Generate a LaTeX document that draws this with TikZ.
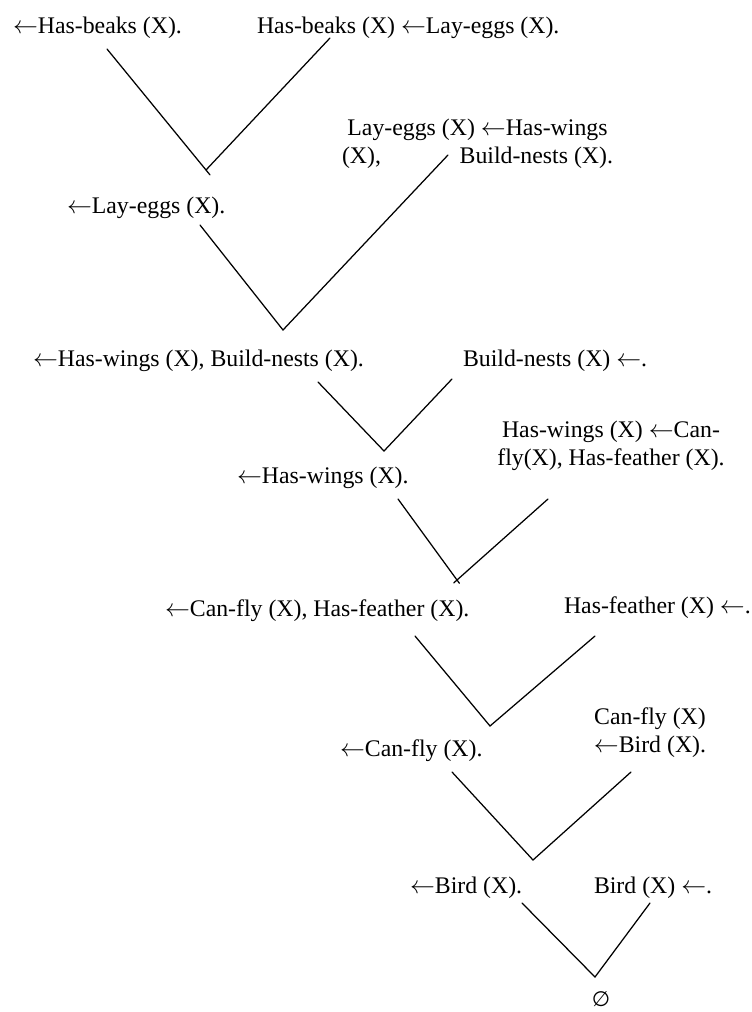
\documentclass[tikz,border=0pt]{standalone}
\usepackage{fontspec}
\setmainfont{Liberation Serif}
\newfontfamily\symfont{DejaVu Sans}
\usetikzlibrary{calc}
\newcommand{\lar}{\ensuremath{\leftarrow}}
\begin{document}
\begin{tikzpicture}[x=1pt,y=-1pt,
  clause/.style={inner sep=0pt, outer sep=0pt, anchor=base west,
    font=\fontsize{23.8}{28}\selectfont},
  stack/.style={clause, anchor=base},
  edge/.style={line width=1.25pt, line cap=round, line join=miter}]
\useasboundingbox (0,0) rectangle (752,1012);

% clauses of the resolution refutation
\node[clause] (hb)   at (13,33)   {\lar Has-beaks (X).};
\node[clause] (hbl)  at (257,33)  {Has-beaks (X) \lar Lay-eggs (X).};
\node[clause] (le)   at (67,213)  {\lar Lay-eggs (X).};
\node[stack]  (lehw) at (477.5,135) {\begin{tabular}[t]{@{}c@{}}Lay-eggs (X) \lar Has-wings\\
  \makebox[271pt]{(X),\hfill Build-nests (X).}\end{tabular}};
\node[clause] (hwbn) at (33,366)  {\lar Has-wings (X), Build-nests (X).};
\node[clause] (bn)   at (463,366) {Build-nests (X) \lar.};
\node[clause] (hw)   at (237,483) {\lar Has-wings (X).};
\node[stack]  (hwcf) at (611,437) {\begin{tabular}[t]{@{}c@{}}Has-wings (X) \lar Can-\\
  fly(X), Has-feather (X).\end{tabular}};
\node[clause] (cfhf) at (165,616) {\lar Can-fly (X), Has-feather (X).};
\node[clause] (hf)   at (564,613) {Has-feather (X) \lar.};
\node[clause] (cf)   at (340,756) {\lar Can-fly (X).};
\node[stack]  (cfb)  at (650,724) {\begin{tabular}[t]{@{}c@{}}Can-fly (X)\\
  \lar Bird (X).\end{tabular}};
\node[clause] (b)    at (410,893) {\lar Bird (X).};
\node[clause] (bf)   at (594,893) {Bird (X) \lar.};
\node[inner sep=0pt, font=\fontsize{21}{24}\symfont] (empty) at (601,999) {∅};

% end points of the resolution branches
\coordinate (hb-o)   at (107,49);
\coordinate (hbl-o)  at (330,38);
\coordinate (r1)     at (206,170);
\coordinate (le-o)   at (200,225);
\coordinate (lehw-o) at (448,155);
\coordinate (r2)     at (283,330);
\coordinate (hwbn-o) at (318,382);
\coordinate (bn-o)   at (452,379);
\coordinate (r3)     at (384,451);
\coordinate (hw-o)   at (398,499);
\coordinate (hwcf-o) at (548,499);
\coordinate (r4)     at (457,580);
\coordinate (cfhf-o) at (415,636);
\coordinate (hf-o)   at (595,636);
\coordinate (r5)     at (490,726);
\coordinate (cf-o)   at (452,772);
\coordinate (cfb-o)  at (631,772);
\coordinate (r6)     at (533,860);
\coordinate (b-o)    at (522,903);
\coordinate (bf-o)   at (650,903);
\coordinate (r7)     at (595,977);

% resolution steps
\draw[edge] (hb-o) -- ($(hb-o)!1.04!(r1)$);
\draw[edge] (hbl-o) -- (r1);
\draw[edge] (le-o) -- (r2) -- (lehw-o);
\draw[edge] (hwbn-o) -- (r3) -- (bn-o);
\draw[edge] (hw-o) -- ($(hw-o)!1.04!(r4)$);
\draw[edge] (hwcf-o) -- ($(hwcf-o)!1.035!(r4)$);
\draw[edge] (cfhf-o) -- (r5) -- (hf-o);
\draw[edge] (cf-o) -- (r6) -- (cfb-o);
\draw[edge] (b-o) -- (r7) -- (bf-o);
\end{tikzpicture}
\end{document}
